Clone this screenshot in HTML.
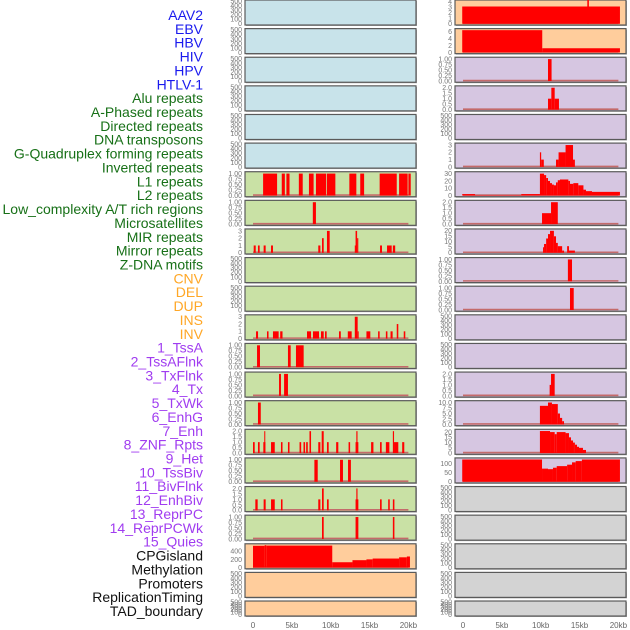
<!DOCTYPE html>
<html><head><meta charset="utf-8">
<style>
html,body{margin:0;padding:0;background:#fff;}
svg{display:block;font-family:"Liberation Sans",sans-serif;}
</style></head>
<body>
<svg id="chart" width="630" height="630" viewBox="0 0 630 630" xmlns="http://www.w3.org/2000/svg"></svg>
<script>
// ---- labels ----
const trackLabels = ["AAV2","EBV","HBV","HIV","HPV","HTLV-1","Alu repeats","A-Phased repeats","Directed repeats","DNA transposons","G-Quadruplex forming repeats","Inverted repeats","L1 repeats","L2 repeats","Low_complexity A/T rich regions","Microsatellites","MIR repeats","Mirror repeats","Z-DNA motifs","CNV","DEL","DUP","INS","INV","1_TssA","2_TssAFlnk","3_TxFlnk","4_Tx","5_TxWk","6_EnhG","7_Enh","8_ZNF_Rpts","9_Het","10_TssBiv","11_BivFlnk","12_EnhBiv","13_ReprPC","14_ReprPCWk","15_Quies","CPGisland","Methylation","Promoters","ReplicationTiming","TAD_boundary"];
const labelGroups = [6,13,5,15,5];
const labelColors = ["#1a1aee","#177017","#ffa726","#a03cf0","#111111"];

// ---- x axis ----
const xTicks = [0,5,10,15,20];
const xTickLabels = ["0","5kb","10kb","15kb","20kb"];

// ---- tick sets ----
const t500 = [0,100,200,300,400,500];
const t1 = [0,0.25,0.5,0.75,1];
const t2 = [0,0.5,1,1.5,2];
const t3 = [0,1,2,3];

// ---- left column segments [startKb, endKb, value] ----
const left6 = [[1.3,3.1,1],[3.7,4.1,1],[4.3,4.7,1],[5.9,6.4,1],[7.2,7.8,1],[8.1,9.4,1],[9.5,10.6,1],[12.4,13.3,1],[13.8,14.3,1],[16.3,18.5,1],[18.8,19.9,1],[20.0,20.3,1]];
const left7 = [[7.7,8.1,1]];
const left8 = [[0.09,0.35,1],[0.64,0.86,1],[1.37,1.63,1],[2.32,2.57,1],[8.4,8.67,1],[8.88,9.1,2],[9.52,9.87,3],[13.1,13.2,1],[13.2,13.4,3],[13.4,13.55,2],[16.35,16.6,1],[17.25,17.85,1],[18.0,18.3,1]];
const left11 = [[0.39,0.65,1],[1.8,2.0,1],[2.57,3.3,1],[3.5,3.8,1],[6.95,7.47,1],[7.72,8.5,1],[8.75,9.1,1],[9.27,9.48,1],[11.07,11.3,1],[12.2,12.7,1],[13.1,13.47,3],[13.47,13.6,1],[14.6,15.1,1],[16.1,16.3,1],[17.1,17.3,1],[17.7,17.97,1],[18.5,18.7,2],[19.4,19.6,1]];
const left12 = [[0.52,0.9,1],[4.5,4.85,1],[5.53,6.52,1]];
const left13 = [[3.35,3.6,1],[4.0,4.5,1]];
const left14 = [[0.64,1.0,1]];
const left15 = [[0.0,0.22,1],[0.64,0.86,1],[1.33,1.6,1],[1.45,1.55,2],[2.32,2.8,1],[3.6,3.8,1],[4.5,4.7,1],[5.99,6.2,1],[6.5,6.7,1],[6.84,7.05,1],[7.27,7.47,2],[8.4,8.67,1],[8.84,9.1,2],[9.52,9.74,1],[10.7,10.98,1],[12.3,12.5,1],[13.2,13.56,1],[13.3,13.45,2],[15.2,15.5,1],[16.35,16.56,1],[17.1,17.55,1],[18.0,18.15,2],[18.15,18.7,1],[19.2,19.47,1]];
const left16 = [[7.9,8.33,1],[11.2,11.58,1],[12.23,12.6,1]];
const left17 = [[0.3,0.6,1],[1.37,1.63,1],[2.32,2.8,1],[3.6,3.8,1],[8.4,8.67,1],[8.88,9.1,2],[9.52,9.74,1],[13.2,13.56,1],[13.3,13.45,2],[16.35,16.56,1],[17.4,17.6,1],[18.0,18.2,1]];
const left18 = [[8.88,9.1,1],[13.2,13.56,1],[18.0,18.2,1]];
const left19 = [[0.0,1.5,530],[1.5,1.7,545],[1.7,10.2,535],[10.2,12.8,130],[12.8,14.6,180],[14.6,15.4,200],[15.4,18.8,220],[18.8,19.8,250],[19.8,20.2,270]];

// ---- right column segments ----
const right0 = [[-0.1,20.2,3.1],[16.0,16.2,4.3]];
const right1 = [[-0.1,10.2,6.4],[10.2,20.2,1.2]];
const right2 = [[10.94,11.4,1]];
const right3 = [[10.94,11.37,1],[11.37,11.8,2],[11.8,12.35,1]];
const right5 = [[9.9,10.06,2],[10.06,10.4,1],[11.97,12.3,1],[12.3,13.2,2],[13.2,14.16,3],[14.16,14.4,1]];
const right6 = [[-0.1,1.55,2],[1.55,7.5,0.5],[7.5,9.9,2],[9.9,10.43,30],[10.43,10.7,28],[10.7,10.94,24],[10.94,11.2,20],[11.2,11.45,17],[11.45,11.7,15],[11.7,11.97,14],[11.97,12.2,18],[12.2,12.48,21],[12.48,13.56,22],[13.56,13.77,20],[13.77,14.2,16],[14.2,14.84,17],[14.84,15.5,14],[15.5,15.83,8],[15.83,16.6,6],[16.6,20.2,5]];
const right7 = [[10.17,11.33,1],[11.33,12.2,2]];
const right8 = [[10.3,10.43,5],[10.43,10.7,8],[10.7,10.94,13],[10.94,11.2,17],[11.2,11.7,20],[11.7,11.97,15],[11.97,12.2,9],[12.2,12.76,6],[12.76,13.0,2],[13.4,13.64,6],[13.64,14.4,2]];
const right9 = [[13.5,14.03,1]];
const right10 = [[13.77,14.25,1]];
const right13 = [[11.15,11.33,1],[11.33,11.8,2]];
const right14 = [[9.9,10.94,8.5],[10.94,11.45,10],[11.45,12.2,9.3],[12.2,12.48,5],[12.48,12.76,3],[12.76,13.0,1.5]];
const right15 = [[9.9,11.2,21],[11.2,11.8,20],[11.8,12.06,18],[12.06,13.2,20],[13.2,13.64,19],[13.64,13.9,15],[13.9,14.16,12],[14.16,14.4,10],[14.4,14.67,8],[14.67,14.93,6],[14.93,15.44,5],[15.44,15.83,3]];
const right16 = [[-0.1,10.17,124],[10.17,10.94,73],[10.94,11.58,70],[11.58,12.06,78],[12.06,13.4,87],[13.4,14.03,95],[14.03,14.5,108],[14.5,15.3,115],[15.3,20.2,124]];

// ---- panel definitions: [background, ticks, tickLabels, max, segments] ----
const BLUE="#c8e3ea", GREEN="#c9e1a5", ORANGE="#ffcd9c", PURPLE="#d6c6e1", GRAY="#d3d3d3";
const L = (a)=>a.map(String);
const f2 = (a)=>a.map(v=>v.toFixed(2));
const f1 = (a)=>a.map(v=>v.toFixed(1));
const leftPanels = [
 [BLUE,t500,L(t500),500,null],[BLUE,t500,L(t500),500,null],[BLUE,t500,L(t500),500,null],
 [BLUE,t500,L(t500),500,null],[BLUE,t500,L(t500),500,null],[BLUE,t500,L(t500),500,null],
 [GREEN,t1,f2(t1),1.03,left6],[GREEN,t1,f2(t1),1.03,left7],[GREEN,t3,L(t3),3.1,left8],
 [GREEN,t500,L(t500),500,null],[GREEN,t500,L(t500),500,null],[GREEN,t3,L(t3),3.1,left11],
 [GREEN,t1,f2(t1),1.03,left12],[GREEN,t1,f2(t1),1.03,left13],[GREEN,t1,f2(t1),1.03,left14],
 [GREEN,t2,f1(t2),2.06,left15],[GREEN,t1,f2(t1),1.03,left16],[GREEN,t2,f1(t2),2.06,left17],
 [GREEN,t1,f2(t1),1.03,left18],[ORANGE,[0,200,400],["0","200","400"],550,left19],
 [ORANGE,t500,L(t500),500,null],[ORANGE,t500,L(t500),500,null]
];
const rightPanels = [
 [ORANGE,[0,1,2,3,4],["0","1","2","3","4"],4.05,right0],[ORANGE,[0,2,4,6],["0","2","4","6"],6.5,right1],
 [PURPLE,t1,f2(t1),1.03,right2],[PURPLE,t2,f1(t2),2.06,right3],[PURPLE,t500,L(t500),500,null],
 [PURPLE,t3,L(t3),3.1,right5],[PURPLE,[0,10,20,30],["0","10","20","30"],31,right6],
 [PURPLE,t2,f1(t2),2.06,right7],[PURPLE,[0,5,10,15,20],["0","5","10","15","20"],20.6,right8],
 [PURPLE,t1,f2(t1),1.03,right9],[PURPLE,t1,f2(t1),1.03,right10],
 [PURPLE,t500,L(t500),500,null],[PURPLE,t500,L(t500),500,null],
 [PURPLE,t2,f1(t2),2.06,right13],[PURPLE,[0,2.5,5,7.5,10],["0.0","2.5","5.0","7.5","10.0"],10.3,right14],
 [PURPLE,[0,5,10,15,20],["0","5","10","15","20"],21.5,right15],[PURPLE,[0,50,100],["0","50","100"],126,right16],
 [GRAY,t500,L(t500),500,null],[GRAY,t500,L(t500),500,null],[GRAY,t500,L(t500),500,null],
 [GRAY,t500,L(t500),500,null],[GRAY,t500,L(t500),500,null]
];

const svg = document.getElementById('chart');
const NS = "http://www.w3.org/2000/svg";
function mk(tag, attrs, parent){
  const e = document.createElementNS(NS, tag);
  for (const k in attrs) e.setAttribute(k, attrs[k]);
  (parent||svg).appendChild(e);
  return e;
}
const ROW_PITCH = 28.62, PANEL_W = 171, PX_PER_KB = 7.77;
function rowTop(i){ return i*ROW_PITCH; }
function rowH(i){ return i===21 ? 15 : 25; }
function xKb(colX, kb){ return colX + 8 + kb*PX_PER_KB; }

// labels
let li = 0;
labelGroups.forEach((n, g) => {
  for (let k=0;k<n;k++){
    const t = mk('text',{x:203,y:(20+li*13.86).toFixed(1),'text-anchor':'end','font-size':'14',fill:labelColors[g]});
    t.textContent = trackLabels[li];
    
    
    li++;
  }
});

function drawPanel(colX, i, p, side){
  const [bg, ticks, tickLabels, max, segs] = p;
  const top = rowTop(i), h = rowH(i);
  const g = mk('g',{});
  
  
  mk('rect',{x:colX+1,y:top+1,width:PANEL_W,height:h,fill:'#a9a9a9'},g);
  const bgr = mk('rect',{x:colX,y:top,width:PANEL_W,height:h,fill:bg,stroke:'#5a5a5a','stroke-width':1.2},g);
  
  
  const y0 = top + h - 1.2, ytop = top + 1.2;
  const yv = v => y0 - (v/max)*(y0-ytop);
  ticks.forEach((tv, k) => {
    const t = mk('text',{x:colX-3,y:(yv(tv)+2.4).toFixed(1),'text-anchor':'end','font-size':'7',fill:'#777'},g);
    t.textContent = tickLabels[k];
    
    
  });
  if (segs){
    const base = mk('line',{x1:xKb(colX,0),x2:xKb(colX,20),y1:y0-0.5,y2:y0-0.5,stroke:'#c46a6a','stroke-width':1.6},g);
    
    
    segs.forEach(s => {
      const x1 = xKb(colX,s[0]), x2 = xKb(colX,s[1]);
      const r = mk('rect',{x:x1.toFixed(2),y:yv(s[2]).toFixed(2),width:Math.max(1,x2-x1).toFixed(2),height:(y0-yv(s[2])).toFixed(2),fill:'#ff0000'},g);
      
      
    });
  }
}
leftPanels.forEach((p,i)=>drawPanel(245,i,p,'left'));
rightPanels.forEach((p,i)=>drawPanel(455,i,p,'right'));

// x axes
[245,455].forEach((colX, c) => {
  xTicks.forEach((kb, k) => {
    const t = mk('text',{x:xKb(colX,kb).toFixed(1),y:628,'text-anchor':'middle','font-size':'8',fill:'#666'});
    t.textContent = xTickLabels[k];
    
    
  });
});
</script>
</body></html>
